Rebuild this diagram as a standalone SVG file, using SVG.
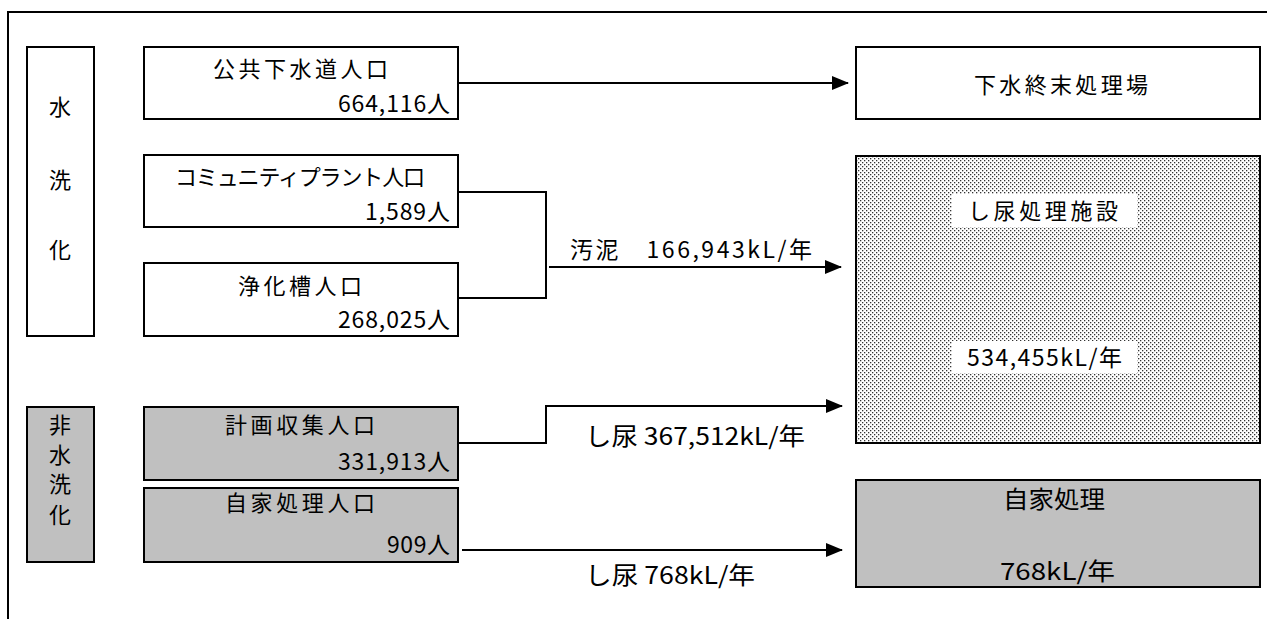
<svg xmlns="http://www.w3.org/2000/svg" width="1267" height="619" viewBox="0 0 1267 619">
<style>
.box{fill:#fff;stroke:#000;stroke-width:2}
.gray{fill:#c0c0c0;stroke:#000;stroke-width:2}
.dot{fill:url(#dots);stroke:#000;stroke-width:2}
.ln{fill:none;stroke:#000;stroke-width:2}
text{font-family:"Noto Sans CJK JP","Noto Sans CJK SC",sans-serif;font-size:22px;fill:#000}
.c{text-anchor:middle}
.n{font-size:23px}
.cd{font-size:24px}
</style>
<defs>
<pattern id="dots" width="4" height="4" patternUnits="userSpaceOnUse">
<rect width="4" height="4" fill="#fff"/>
<rect x="0" y="0" width="1.3" height="1.3" fill="#333"/>
<rect x="2" y="2" width="1.3" height="1.3" fill="#333"/>
</pattern>
<marker id="ah" markerWidth="17" markerHeight="14" refX="16" refY="7" orient="auto" markerUnits="userSpaceOnUse">
<path d="M0,0 L17,7 L0,14 Z" fill="#000"/>
</marker>
</defs>
<rect width="1267" height="619" fill="#fff"/>
<g id="frame"><path class="ln" d="M8,619 V12 H1267"/></g>

<g id="suisenka">
<rect class="box" x="27" y="47" width="67" height="289"/>
<text class="c" x="60" y="115">水</text>
<text class="c" x="60" y="188">洗</text>
<text class="c" x="60" y="258">化</text>
</g>
<g id="hisuisenka">
<rect class="gray" x="27" y="407" width="67" height="155"/>
<text class="c" x="60" y="433">非</text>
<text class="c" x="60" y="463">水</text>
<text class="c" x="60" y="492">洗</text>
<text class="c" x="60" y="523">化</text>
</g>

<g id="kokyo">
<rect class="box" x="144" y="47" width="314" height="72"/>
<text x="213" y="77" textLength="175">公共下水道人口</text>
<text class="n" x="338" y="112" textLength="112">664,116人</text>
</g>
<g id="community">
<rect class="box" x="144" y="155" width="314" height="72"/>
<text x="175" y="185" textLength="250">コミュニティプラント人口</text>
<text class="n" x="365" y="220" textLength="85">1,589人</text>
</g>
<g id="johkaso">
<rect class="box" x="144" y="263" width="314" height="73"/>
<text x="238" y="294" textLength="124">浄化槽人口</text>
<text class="n" x="338" y="328" textLength="112">268,025人</text>
</g>
<g id="keikaku">
<rect class="gray" x="144" y="407" width="314" height="73"/>
<text x="225" y="433" textLength="150">計画収集人口</text>
<text class="n" x="338" y="470" textLength="112">331,913人</text>
</g>
<g id="jika-jinko">
<rect class="gray" x="144" y="488" width="314" height="74"/>
<text x="225" y="511" textLength="150">自家処理人口</text>
<text class="n" x="387" y="553" textLength="63">909人</text>
</g>

<g id="gesui">
<rect class="box" x="856" y="47" width="404" height="72"/>
<text x="974" y="93" textLength="174">下水終末処理場</text>
</g>
<g id="shinyo">
<rect class="dot" x="856" y="156" width="404" height="287"/>
<rect x="952" y="194" width="185" height="33" fill="#fff"/>
<text x="968" y="219" textLength="150">し尿処理施設</text>
<rect x="952" y="341" width="185" height="32" fill="#fff"/>
<text class="n" x="967" y="366" textLength="155">534,455kL/年</text>
</g>
<g id="jika">
<rect class="gray" x="856" y="480" width="404" height="107"/>
<text class="cd" x="1003" y="508" textLength="102" lengthAdjust="spacingAndGlyphs">自家処理</text>
<text class="cd" x="1000" y="580" textLength="115" lengthAdjust="spacingAndGlyphs">768kL/年</text>
</g>

<g id="connectors">
<path class="ln" d="M458,83 H848" marker-end="url(#ah)"/>
<path class="ln" d="M458,192 H546 V298 H458"/>
<path class="ln" d="M549,267 H841" marker-end="url(#ah)"/>
<path class="ln" d="M458,443 H546 V406 H842" marker-end="url(#ah)"/>
<path class="ln" d="M462,550 H842" marker-end="url(#ah)"/>
<text class="n" x="570" y="258" textLength="242">汚泥　166,943kL/年</text>
<text class="cd" x="585" y="445" textLength="220" lengthAdjust="spacingAndGlyphs">し尿  367,512kL/年</text>
<text class="cd" x="585" y="584" textLength="170" lengthAdjust="spacingAndGlyphs">し尿  768kL/年</text>
</g>
</svg>
